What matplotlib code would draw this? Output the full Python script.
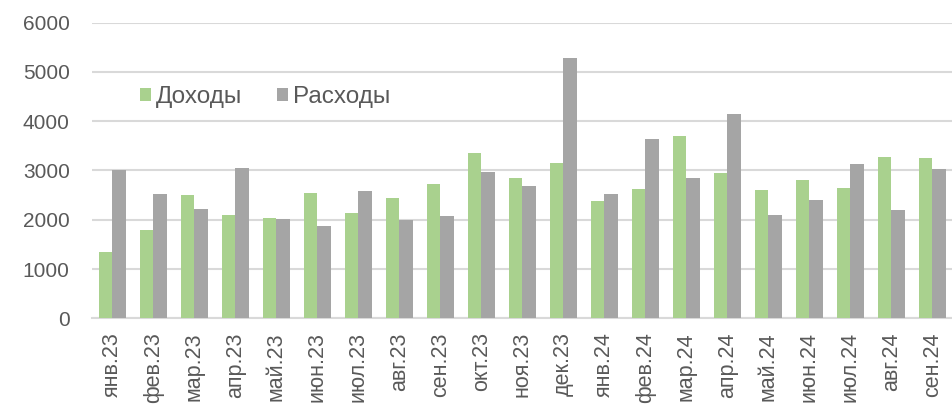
import matplotlib
matplotlib.use('Agg')
import numpy as np
import matplotlib.pyplot as plt

# monthly data
months = ['янв.23', 'фев.23', 'мар.23', 'апр.23', 'май.23', 'июн.23', 'июл.23',
          'авг.23', 'сен.23', 'окт.23', 'ноя.23', 'дек.23', 'янв.24', 'фев.24',
          'мар.24', 'апр.24', 'май.24', 'июн.24', 'июл.24', 'авг.24', 'сен.24']
income = [1340, 1800, 2500, 2100, 2030, 2550, 2140, 2450, 2730, 3360, 2850,
          3150, 2390, 2620, 3690, 2950, 2600, 2800, 2640, 3270, 3250]
expenses = [3000, 2520, 2210, 3060, 2010, 1870, 2590, 2000, 2070, 2970, 2680,
            5290, 2520, 3630, 2850, 4140, 2100, 2410, 3140, 2200, 3040]
yticks = [0, 1000, 2000, 3000, 4000, 5000, 6000]

plt.rcParams['font.family'] = ['Liberation Sans', 'DejaVu Sans']
text_color = '#595959'
green = '#A9D18E'
gray = '#A5A5A5'

fig = plt.figure(figsize=(9.53, 4.04), dpi=100)
ax = fig.add_axes([0.0965, 0.212, 0.9035, 0.732])

x = np.arange(len(months))
w = 1 / 3
ax.bar(x - w / 2, income, width=w, color=green, label='Доходы', zorder=3)
ax.bar(x + w / 2, expenses, width=w, color=gray, label='Расходы', zorder=3)

ax.set_xlim(-0.5, len(months) - 0.5)
ax.set_ylim(0, 6000)
ax.set_yticks(yticks)
ax.set_xticks(x)
ax.set_xticklabels(months, rotation=90, va='top', ha='center')
ax.tick_params(axis='y', length=0, pad=16, labelsize=15, labelcolor=text_color)
ax.tick_params(axis='x', length=0, pad=10, labelsize=15.5, labelcolor=text_color)

ax.yaxis.grid(True, color='#D9D9D9', linewidth=1.5, zorder=0)
for s in ['top', 'right', 'left']:
    ax.spines[s].set_visible(False)
ax.spines['bottom'].set_color('#D9D9D9')
ax.spines['bottom'].set_linewidth(1.5)

leg = fig.legend(loc='center left', bbox_to_anchor=(0.147, 0.76), ncol=2,
                 frameon=False, fontsize=17.5, handlelength=0.45, handleheight=0.45,
                 handletextpad=0.2, columnspacing=1.45, borderpad=0, borderaxespad=0)
for t in leg.get_texts():
    t.set_color(text_color)

fig.savefig('out.png', dpi=100)
